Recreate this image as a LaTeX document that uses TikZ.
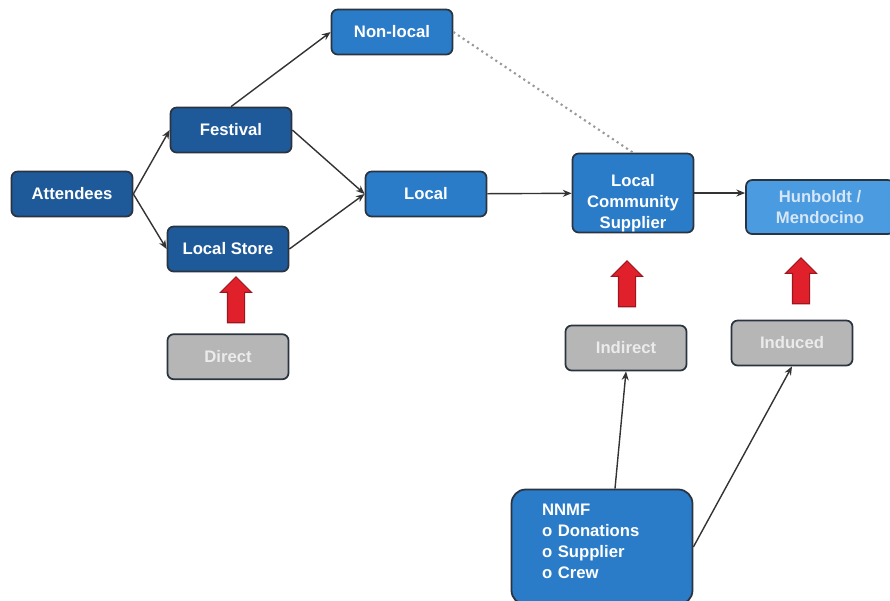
\documentclass[tikz,border=0pt]{standalone}
\usepackage{fontspec}
\setmainfont{Liberation Sans}
\usetikzlibrary{arrows.meta,positioning,shapes.arrows}

\definecolor{darkblue}{HTML}{1E5A9A}
\definecolor{midblue}{HTML}{2A7BC8}
\definecolor{lightblue}{HTML}{4A9BE0}
\definecolor{paleblue}{HTML}{D6E6F6}
\definecolor{effectgray}{HTML}{B6B6B6}
\definecolor{edgegray}{HTML}{2A3440}
\definecolor{arrowred}{HTML}{E0202A}

\begin{document}
\begin{tikzpicture}[
  x=0.02cm, y=-0.02cm,
  >={Stealth[length=5pt,width=4pt]},
  flow/.style={->, line width=0.8pt, draw=black!80},
  hint/.style={dotted, line width=1.2pt, draw=black!40},
  box/.style={
    rectangle,
    rounded corners=3.5pt,
    draw=edgegray,
    line width=1pt,
    minimum width=2.42cm,
    minimum height=0.9cm,
    align=center,
    text=white,
    font=\bfseries\fontsize{9.5}{12}\selectfont
  },
  dark/.style={box, fill=darkblue},
  mid/.style={box, fill=midblue},
  light/.style={box, fill=lightblue, text=paleblue},
  effect/.style={box, fill=effectgray, text=white!92!black},
  uparrow/.style={
    single arrow,
    rotate=90,
    fill=arrowred,
    draw=arrowred!70!black,
    line width=0.6pt,
    minimum height=0.92cm,
    minimum width=0.6cm,
    single arrow head extend=0.14cm,
    inner xsep=0pt,
    inner ysep=0.16cm
  }
]
  \useasboundingbox (0,0) rectangle (890,600);

  \node[dark] (att) at (72,194) {Attendees};
  \node[dark] (fest) at (231,130) {Festival};
  \node[dark] (store) at (228,249) {Local Store};
  \node[effect, below=1.22cm of store] (direct) {Direct};

  \node[mid] (nonlocal) at (392,32) {Non-local};
  \node[mid] (local) at (426,194) {Local};
  \node[mid, minimum height=1.58cm, inner ysep=0pt] (lcs) at (633,193)
    {\rule{0pt}{18.4pt}Local\\Community\\Supplier};
  \node[light, minimum width=2.96cm, minimum height=1.08cm] (hum) at (820,207) {Hunboldt /\\Mendocino};

  \node[effect] (indirect) at (626,348) {Indirect};
  \node[effect] (induced) at (792,343) {Induced};
  \node[mid, rounded corners=8pt, minimum width=3.62cm, minimum height=2.3cm,
        text width=2.4cm, inner xsep=0.6cm, align=left] (nnmf) at (602,547)
    {NNMF\\o Donations\\o Supplier\\o Crew\rule[-6.8pt]{0pt}{6.8pt}};

  \node[uparrow] (arrD) at (236,304) {};
  \node[uparrow] (arrI) at (627,288) {};
  \node[uparrow] (arrN) at (801,285) {};

  \draw[flow] (att.east) -- (fest.west);
  \draw[flow] (att.east) -- (store.west);
  \draw[flow] (fest.north) -- (nonlocal.west);
  \draw[flow] (fest.east) -- (local.west);
  \draw[flow] (store.east) -- (local.west);
  \draw[flow] (local) -- (lcs);
  \draw[hint] (nonlocal.east) -- (lcs.north);
  \draw[flow] (lcs.east) -- (hum.west |- lcs.east);
  \draw[flow] ([xshift=0.26cm]nnmf.north) -- (indirect.south);
  \draw[flow] (nnmf.east) -- (induced.south);
\end{tikzpicture}
\end{document}
